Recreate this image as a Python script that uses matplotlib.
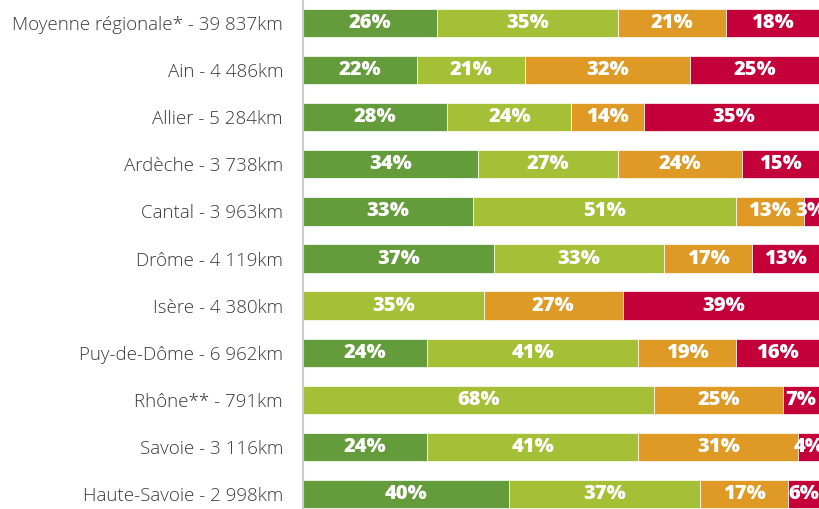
import matplotlib.pyplot as plt
import numpy as np

# categories (top to bottom)
labels = ["Moyenne régionale* - 39 837km", "Ain - 4 486km", "Allier - 5 284km",
          "Ardèche - 3 738km", "Cantal - 3 963km", "Drôme - 4 119km",
          "Isère - 4 380km", "Puy-de-Dôme - 6 962km", "Rhône** - 791km",
          "Savoie - 3 116km", "Haute-Savoie - 2 998km"]

tres_bon = [26, 22, 28, 34, 33, 37, 0, 24, 0, 24, 40]
bon = [35, 21, 24, 27, 51, 33, 35, 41, 68, 41, 37]
moyen = [21, 32, 14, 24, 13, 17, 27, 19, 25, 31, 17]
mauvais = [18, 25, 35, 15, 3, 13, 39, 16, 7, 4, 6]

colors = ["#659c3b", "#a5c036", "#de9a25", "#c3003a"]

plt.rcParams['font.family'] = ['Open Sans', 'DejaVu Sans']

fig = plt.figure(figsize=(8.19, 5.09), dpi=100)
ax = fig.add_axes([303 / 819, 0, 516 / 819, 1])

data = np.array([tres_bon, bon, moyen, mauvais], dtype=float)
y = np.arange(len(labels))
left = np.zeros(len(labels))
for vals, c in zip(data, colors):
    ax.barh(y, vals, left=left, height=0.6, color=c, edgecolor='white', linewidth=0.5)
    for yi, l, v in zip(y, left, vals):
        if v > 0:
            ax.text(l + v / 2, yi, f"{int(v)}%", ha='center', va='center',
                    color='white', fontsize=14.5, fontweight='heavy')
    left += vals

ax.set_xlim(0, 100)
ax.set_ylim(10.318, -0.488)
ax.set_yticks(y)
ax.set_yticklabels(labels, fontsize=13.5, color='#3a3a3a', fontweight='light')
ax.tick_params(axis='y', length=0, pad=14.4)
ax.set_xticks([])
for s in ['top', 'right', 'bottom']:
    ax.spines[s].set_visible(False)
ax.spines['left'].set_color('#cccccc')
ax.spines['left'].set_linewidth(1.5)

fig.savefig("out.png", dpi=100)
